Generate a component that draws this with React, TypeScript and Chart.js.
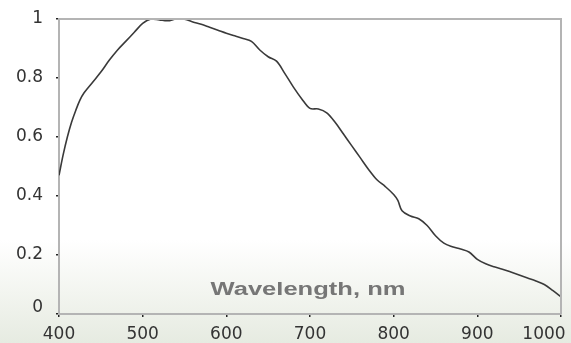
import React, { useEffect, useRef } from "react";
import { Chart, registerables } from "chart.js";

Chart.register(...registerables);

const wavelengths = [
  400, 405, 410, 415, 420, 425, 430, 440, 450, 460, 470, 480, 490, 500, 510, 520, 530, 540, 550, 560,
  570, 580, 590, 600, 610, 620, 630, 640, 650, 660, 670, 680, 690, 700, 710, 720, 730, 740, 750, 760,
  770, 780, 790, 800, 805, 810, 820, 830, 840, 850, 860, 870, 880, 890, 900, 910, 920, 930, 940, 950,
  960, 970, 980, 990, 1000,
];
const response = [
  0.47, 0.54, 0.6, 0.65, 0.69, 0.725, 0.75, 0.785, 0.82, 0.86, 0.895, 0.925, 0.955, 0.985, 1.0, 0.997, 0.994, 1.0, 0.999, 0.99,
  0.982, 0.972, 0.962, 0.952, 0.943, 0.934, 0.924, 0.895, 0.872, 0.857, 0.815, 0.77, 0.73, 0.697, 0.695, 0.682, 0.65, 0.61, 0.57, 0.53,
  0.49, 0.455, 0.432, 0.405, 0.385, 0.35, 0.332, 0.323, 0.3, 0.265, 0.24, 0.228, 0.22, 0.21, 0.185, 0.17, 0.16, 0.152, 0.142, 0.132,
  0.122, 0.112, 0.1, 0.08, 0.058,
];
const xTicks = [400, 500, 600, 700, 800, 900, 1000];
const yTicks = [0, 0.2, 0.4, 0.6, 0.8, 1];
const axisTitle = "Wavelength, nm";

const framePlugin = {
  id: "frame",
  beforeDraw(chart: any) {
    const xs = chart.scales.x;
    const ys = chart.scales.y;
    const xi = xs.getLabelItems(chart.chartArea);
    if (xi.length && !xi[xi.length - 1]._shifted) {
      xi[xi.length - 1].options.translation[0] -= 17;
      xi[xi.length - 1]._shifted = true;
    }
    const yi = ys.getLabelItems(chart.chartArea);
    if (yi.length && !yi[0]._shifted) {
      yi[0].options.translation[1] -= 6;
      yi[0]._shifted = true;
    }
  },
  afterDatasetsDraw(chart: any) {
    const { ctx, chartArea } = chart;
    const { left, right, top, bottom } = chartArea;
    ctx.save();
    ctx.strokeStyle = "#b4b4b4";
    ctx.lineWidth = 2;
    ctx.beginPath();
    ctx.moveTo(left, top);
    ctx.lineTo(right, top);
    ctx.lineTo(right, bottom);
    ctx.stroke();
    ctx.restore();
  },
  afterDraw(chart: any) {
    const { ctx, chartArea } = chart;
    const cx = (chartArea.left + chartArea.right) / 2 - 2;
    const by = chartArea.bottom - 19;
    ctx.save();
    ctx.font = "bold 18px 'Liberation Sans', Arial, sans-serif";
    ctx.fillStyle = "#767676";
    ctx.textAlign = "center";
    ctx.textBaseline = "alphabetic";
    ctx.translate(cx, by);
    ctx.scale(1.42, 1);
    ctx.fillText(axisTitle, 0, 0);
    ctx.restore();
  },
};

export default function App() {
  const ref = useRef<HTMLCanvasElement>(null);
  useEffect(() => {
    document.body.style.margin = "0";
    const canvas = ref.current!;
    const chart = new Chart(canvas, {
      type: "line",
      data: {
        datasets: [
          {
            data: wavelengths.map((w, i) => ({ x: w, y: response[i] })),
            borderColor: "#3a3a3a",
            borderWidth: 1.6,
            pointRadius: 0,
            tension: 0.35,
            fill: false,
          },
        ],
      },
      options: {
        animation: false,
        responsive: false,
        events: [],
        layout: { padding: { top: 19, right: 10, left: 0, bottom: 0 } },
        plugins: { legend: { display: false }, tooltip: { enabled: false } },
        scales: {
          x: {
            type: "linear",
            min: 400,
            max: 1000,
            afterBuildTicks: (s: any) => {
              s.ticks = xTicks.map((v) => ({ value: v }));
            },
            afterFit: (s: any) => {
              s.height = 29;
              s.paddingLeft = 0;
              s.paddingRight = 0;
            },
            grid: { drawOnChartArea: false, drawTicks: true, tickLength: 3, color: "#222", lineWidth: 1.5 },
            border: { display: true, color: "#b4b4b4", width: 2 },
            ticks: {
              color: "#333",
              padding: 7,
              maxRotation: 0,
              font: { family: "'DejaVu Sans', sans-serif", size: 17 },
              callback: (v: any) => String(v),
            },
          },
          y: {
            type: "linear",
            min: 0,
            max: 1,
            afterBuildTicks: (s: any) => {
              s.ticks = yTicks.map((v) => ({ value: v }));
            },
            afterFit: (s: any) => {
              s.width = 59;
              s.paddingTop = 0;
              s.paddingBottom = 0;
            },
            grid: { drawOnChartArea: false, drawTicks: true, tickLength: 3, color: "#222", lineWidth: 1.5 },
            border: { display: true, color: "#b4b4b4", width: 2 },
            ticks: {
              color: "#333",
              padding: 13,
              font: { family: "'DejaVu Sans', sans-serif", size: 17 },
              callback: (v: any) => String(Math.round(v * 10) / 10),
            },
          },
        },
      },
      plugins: [framePlugin],
    });
    return () => chart.destroy();
  }, []);
  return (
    <div
      style={{
        width: 571,
        height: 343,
        background: "linear-gradient(to bottom, #ffffff 0%, #ffffff 70%, #f3f5f0 85%, #e6ebe1 100%)",
      }}
    >
      <canvas ref={ref} width={571} height={343} style={{ display: "block" }} />
    </div>
  );
}
